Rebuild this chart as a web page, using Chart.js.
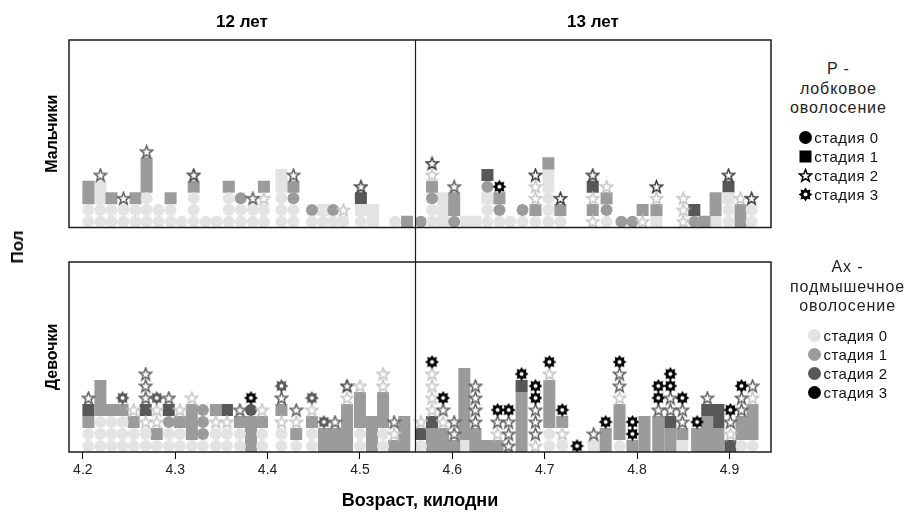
<!DOCTYPE html>
<html lang="ru">
<head>
<meta charset="utf-8">
<script src="https://cdn.jsdelivr.net/npm/chart.js@4.4.1/dist/chart.umd.min.js"></script>
<style>
  body { margin: 0; background: #fff; font-family: "Liberation Sans", Arial, sans-serif; color: #000; }
  #stsena { position: relative; width: 916px; height: 513px; overflow: hidden; }
  #stsena canvas.grafik { position: absolute; left: 0; }
  .zagolovok { position: absolute; top: 12px; font-size: 17px; font-weight: bold; transform: translateX(-50%); white-space: nowrap; }
  #pol { position: absolute; left: 18px; top: 247px; font-size: 17px; font-weight: bold; transform: translate(-50%, -50%) rotate(-90deg); }
  .legenda { position: absolute; left: 790px; width: max-content; display: flex; flex-direction: column; align-items: center; }
  .legenda .tl { font-size: 16px; line-height: 19.5px; letter-spacing: 0.9px; color: #222; }
  .legenda .punkty { margin-top: 10px; }
  .legenda .punkt { font-size: 15px; line-height: 19px; letter-spacing: 0.5px; display: flex; align-items: center; color: #111; }
  .legenda .punkt canvas { margin-right: 1px; }
</style>
</head>
<body>
<div id="stsena">
  <canvas id="grafik-malchiki" class="grafik" width="780" height="236" style="top:0"></canvas>
  <canvas id="grafik-devochki" class="grafik" width="780" height="277" style="top:236px"></canvas>
  <div class="zagolovok" style="left:242px">12 лет</div>
  <div class="zagolovok" style="left:593px">13 лет</div>
  <div id="pol">Пол</div>
  <div class="legenda" id="legenda-p" style="top:59px">
    <div class="tl">P -</div><div class="tl">лобковое</div><div class="tl">оволосение</div>
    <div class="punkty"></div>
  </div>
  <div class="legenda" id="legenda-ax" style="top:257px">
    <div class="tl">Ax -</div><div class="tl">подмышечное</div><div class="tl">оволосение</div>
    <div class="punkty"></div>
  </div>
</div>
<script>
// возраст в килоднях; код метки: форма = стадия P (c/s/t/g = 0..3), цифра = стадия Ax
var deleniyaX = [4.2, 4.3, 4.4, 4.5, 4.6, 4.7, 4.8, 4.9];
var granicaLet = 4.560;
var stadii = ['стадия 0', 'стадия 1', 'стадия 2', 'стадия 3'];

var vozrastMalchiki = [4.206, 4.219, 4.231, 4.244, 4.257, 4.269, 4.282, 4.295, 4.307, 4.320,
  4.333, 4.345, 4.358, 4.371, 4.384, 4.396, 4.415, 4.428, 4.448, 4.460,
  4.471, 4.482, 4.501, 4.514, 4.538, 4.551, 4.566, 4.578, 4.590, 4.602,
  4.615, 4.625, 4.638, 4.651, 4.663, 4.676, 4.690, 4.704, 4.717, 4.752,
  4.767, 4.783, 4.795, 4.806, 4.821, 4.850, 4.862, 4.873, 4.885, 4.899,
  4.912, 4.924];
var metkiMalchiki = ['c0 c0 s1 s1', 'c0 c0 s0 s0 t1', 'c0 c0 s1', 'c0 c0 t1', 'c0 c0 s1',
  'c0 c0 c0 s1 s1 s1 t1', 'c0 c0', 'c0 c0 s1', 'c0', 'c0 c0 c0 s1 t2',
  'c0', 'c0', 'c0 c0 c0 s1', 'c0 c0 c1', 'c0 c0 t1', 'c0 c0 t0 s1',
  'c0 c0 c0 s0 s0', 'c0 c0 c1 s1 t1', 'c0 c1', 'c0 s0',
  'c0 c1', 'c0 t0', 'c0 s0 s2 t2', 's0 s0', 'c0', 's1', 'c1', 'c0 c0 c1 s1 t0 t2', 's0 s0 s0', 'c1 s1 s1 t1',
  's0', 's0', 'c0 c0 s0 c1 s2', 'c0 c1 s1 g3', 'c0', 'c0 c1', 'c0 s1 t0 t0 t2', 'c0 c0 c0 s0 s0 s1', 'c0 s1 t2', 't0 s1 t0 s2 t2',
  'c0 c1 s1 t0', 'c1', 'c1', 't0 s1', 's0 s1 t0 t2', 't0 t0 t0', 'c1 s2', 's1', 's0 s1 s1', 'c0 c0 s0 s2 t2',
  's1 s1 t0', 'c0 c0 t2'];

var vozrastDevochki = [4.206, 4.219, 4.231, 4.243, 4.255, 4.268, 4.280, 4.293, 4.305, 4.318,
  4.330, 4.344, 4.356, 4.370, 4.382, 4.394, 4.415, 4.431, 4.448, 4.461,
  4.473, 4.486, 4.500, 4.513, 4.525, 4.537, 4.548,
  4.566, 4.578, 4.590, 4.602, 4.613, 4.625, 4.637, 4.649, 4.661, 4.675,
  4.690, 4.705, 4.719, 4.735, 4.753, 4.766, 4.781, 4.795, 4.808, 4.823,
  4.836, 4.849, 4.865, 4.876, 4.888, 4.901, 4.913, 4.925];
var metkiDevochki = ['c0 c0 s1 s2 t1', 'c0 c0 c0 s1 s1 s1', 'c0 c0 c0 s1', 'c0 c0 c0 s1 g2', 'c0 c0 s1 t0',
  'c0 c0 t0 s2 t1 t1 t1', 'c0 s1 t0 t0 g2', 'c0 c0 c1 s2 t1', 'c0 c0 s1 t0', 'c0 s1 s1 s1 t0',
  'c0 c1 c1 c1', 'c0 c0 t0 s1', 'c0 c0 t0 s2', 'c0 c0 s1 t1', 's1 s1 s1 c2 g3', 'c0 c0 s1 t0',
  'c0 c0 t0 s1 t1 g2', 'c0 s1 t0 t1', 'c0 c0 s1 t0 g2', 's1 s1 g2',
  's1 s1 t1', 's1 s1 s1 s1 t0 t2', 'c0 c0 s1 s1 s1 t0', 's1 s1 s1', 'c0 c0 s1 s1 s1 t0 t0', 's1 t0 t1', 's1 s1 s1',
  'c0 s2 t0', 's1 s1 s2 t0 t0 t0 t0 g3', 's1 s1 t0 t1 g3', 's1 t1 t1', 's0 s1 s1 s1 s1 s1 s1', 's1 s1 t1 t1 t1 t1',
  's1', 's1 t0 t1 g3', 't1 t1 t1 g3', 's1 s1 s1 s1 s1 s2 g3',
  't0 t1 t1 t1 g3 g3', 'c0 c0 s1 s1 s1 s1 t0 g3', 'c0 t0 s1 g3', 'g3', 's0 t1', 's1 s1 g3',
  'c0 s1 s1 s1 t0 t1 t1 g3', 's1 g3 g3', 's1 s1 s1', 's1 s1 s1 t1 g3 g3',
  's1 s1 s2 t1 t1 g3 g3', 's0 s1 t1 t1 g3', 's1 s1 g3', 's1 s1 s1 s2 t1', 's1 s1 s2 s2',
  's2 t0 t1 g3', 'c0 s1 s1 t1 t1 g3', 'c0 s1 s1 s1 t0 t1'];

var tsvetaAx = ['#e3e3e3', '#9b9b9b', '#585858', '#000000'];
var obvodkaZvezdy = ['#c4c4c4', '#5e5e5e', '#3a3a3a', '#000000'];

Chart.defaults.font.family = '"Liberation Sans", Arial, sans-serif';
Chart.defaults.color = '#000';

function zvezda_(obvodka, zalivka) {
  var c = document.createElement('canvas');
  c.width = 15; c.height = 15;
  var g = c.getContext('2d');
  g.beginPath();
  for (var i = 0; i < 10; i++) {
    var r = i % 2 ? 2.7 : 6.4;
    var a = -Math.PI / 2 + i * Math.PI / 5;
    g.lineTo(7.5 + r * Math.cos(a), 8 + r * Math.sin(a));
  }
  g.closePath();
  g.fillStyle = zalivka;
  g.fill();
  g.lineWidth = 1.5;
  g.strokeStyle = obvodka;
  g.stroke();
  return c;
}

function shesterenka_(tsvet) {
  var c = document.createElement('canvas');
  c.width = 15; c.height = 15;
  var g = c.getContext('2d');
  g.beginPath();
  for (var i = 0; i < 16; i++) {
    var r = i % 2 ? 4.6 : 7;
    var a = i * Math.PI / 8;
    g.lineTo(7.5 + r * Math.cos(a), 7.5 + r * Math.sin(a));
  }
  g.closePath();
  g.fillStyle = tsvet;
  g.fill();
  g.beginPath();
  g.arc(7.5, 7.5, 2, 0, Math.PI * 2);
  g.fillStyle = '#fff';
  g.fill();
  return c;
}

var zvezdy = obvodkaZvezdy.map(function (t) { return zvezda_(t, '#fff'); });
var shesterni = tsvetaAx.map(function (t, i) { return shesterenka_(i === 0 ? '#bbb' : t); });

function nabory_(vozrast, metki) {
  var gruppy = {};
  metki.forEach(function (stolbec, i) {
    stolbec.split(' ').forEach(function (kod, k) {
      if (!gruppy[kod]) gruppy[kod] = [];
      gruppy[kod].push({ x: vozrast[i], y: k + 0.5 });
    });
  });
  return Object.keys(gruppy).map(function (kod) {
    var forma = kod[0];
    var ax = +kod[1];
    var nabor = { data: gruppy[kod], borderWidth: 0, backgroundColor: tsvetaAx[ax], pointRadius: 6, pointHoverRadius: 6 };
    if (forma === 'c') { nabor.pointStyle = 'circle'; nabor.order = 3; }
    if (forma === 's') { nabor.pointStyle = 'rect'; nabor.pointRadius = 8.5; nabor.pointHoverRadius = 8.5; nabor.order = 4; }
    if (forma === 't') { nabor.pointStyle = zvezdy[ax]; nabor.order = 2; }
    if (forma === 'g') { nabor.pointStyle = shesterni[ax]; nabor.order = 1; }
    return nabor;
  });
}

var ramka = {
  id: 'ramka',
  afterDraw: function (chart) {
    var a = chart.chartArea;
    var ctx = chart.ctx;
    var verh = chart.options.verhnii;
    var x = Math.round(chart.scales.x.getPixelForValue(granicaLet)) + 0.5;
    ctx.save();
    ctx.strokeStyle = '#1c1c1c';
    ctx.lineWidth = 1.5;
    ctx.strokeRect(a.left, a.top, a.right - a.left, a.bottom - a.top);
    ctx.lineWidth = 1.2;
    ctx.beginPath();
    ctx.moveTo(x, verh ? a.top : 0);
    ctx.lineTo(x, verh ? chart.height : a.bottom);
    ctx.stroke();
    ctx.restore();
  }
};

function grafik_(idCanvas, vozrast, metki, yMax, nazvanie, verhnii) {
  return new Chart(document.getElementById(idCanvas), {
    type: 'scatter',
    data: { datasets: nabory_(vozrast, metki) },
    plugins: [ramka],
    options: {
      verhnii: verhnii,
      responsive: false,
      animation: false,
      devicePixelRatio: 1,
      layout: { padding: verhnii ? { top: 40, right: 9, bottom: 3, left: 0 } : { top: 26, right: 9, bottom: 0, left: 0 } },
      plugins: { legend: { display: false }, tooltip: { enabled: false } },
      scales: {
        x: {
          type: 'linear',
          min: 4.185,
          max: 4.945,
          display: !verhnii,
          afterBuildTicks: function (s) { s.ticks = deleniyaX.map(function (v) { return { value: v }; }); },
          afterFit: function (s) { s.height = verhnii ? 0 : 61; },
          border: { display: false },
          grid: { drawOnChartArea: false, drawTicks: true, tickLength: 7, color: '#000' },
          ticks: {
            padding: 3,
            color: '#222',
            font: { size: 14, family: '"Liberation Sans Narrow", "Liberation Sans", Arial, sans-serif' },
            callback: function (v) { return v.toFixed(1); }
          },
          title: { display: true, text: 'Возраст, килодни', font: { size: 18, weight: 'bold' }, padding: { top: 0, bottom: 1 } }
        },
        y: {
          min: 0,
          max: yMax,
          afterFit: function (s) { s.width = 69; },
          border: { display: false },
          grid: { display: false, drawTicks: false },
          ticks: { display: false },
          title: { display: true, text: nazvanie, font: { size: 16, weight: 'bold' }, padding: { top: 43, bottom: 0 } }
        }
      }
    }
  });
}

grafik_('grafik-malchiki', vozrastMalchiki, metkiMalchiki, 193 / 12, 'Мальчики', true);
grafik_('grafik-devochki', vozrastDevochki, metkiDevochki, 190 / 12, 'Девочки', false);

// легенды
function znachok_(vid, tsvet) {
  var c = document.createElement('canvas');
  c.width = 15; c.height = 15;
  var g = c.getContext('2d');
  g.fillStyle = tsvet;
  if (vid === 'c') { g.beginPath(); g.arc(7.5, 7.5, 6.5, 0, Math.PI * 2); g.fill(); }
  if (vid === 's') { g.fillRect(1.5, 1.5, 12, 12); }
  if (vid === 't') { return zvezda_('#000', '#fff'); }
  if (vid === 'g') { return shesterenka_('#000'); }
  return c;
}

function legenda_(idBloka, vidy, tsveta) {
  var konteiner = document.querySelector('#' + idBloka + ' .punkty');
  stadii.forEach(function (tekst, i) {
    var punkt = document.createElement('div');
    punkt.className = 'punkt';
    punkt.appendChild(znachok_(vidy[i], tsveta[i]));
    var podpis = document.createElement('span');
    podpis.textContent = tekst;
    punkt.appendChild(podpis);
    konteiner.appendChild(punkt);
  });
}

legenda_('legenda-p', ['c', 's', 't', 'g'], ['#000', '#000', '#000', '#000']);
legenda_('legenda-ax', ['c', 'c', 'c', 'c'], tsvetaAx);
</script>
</body>
</html>
